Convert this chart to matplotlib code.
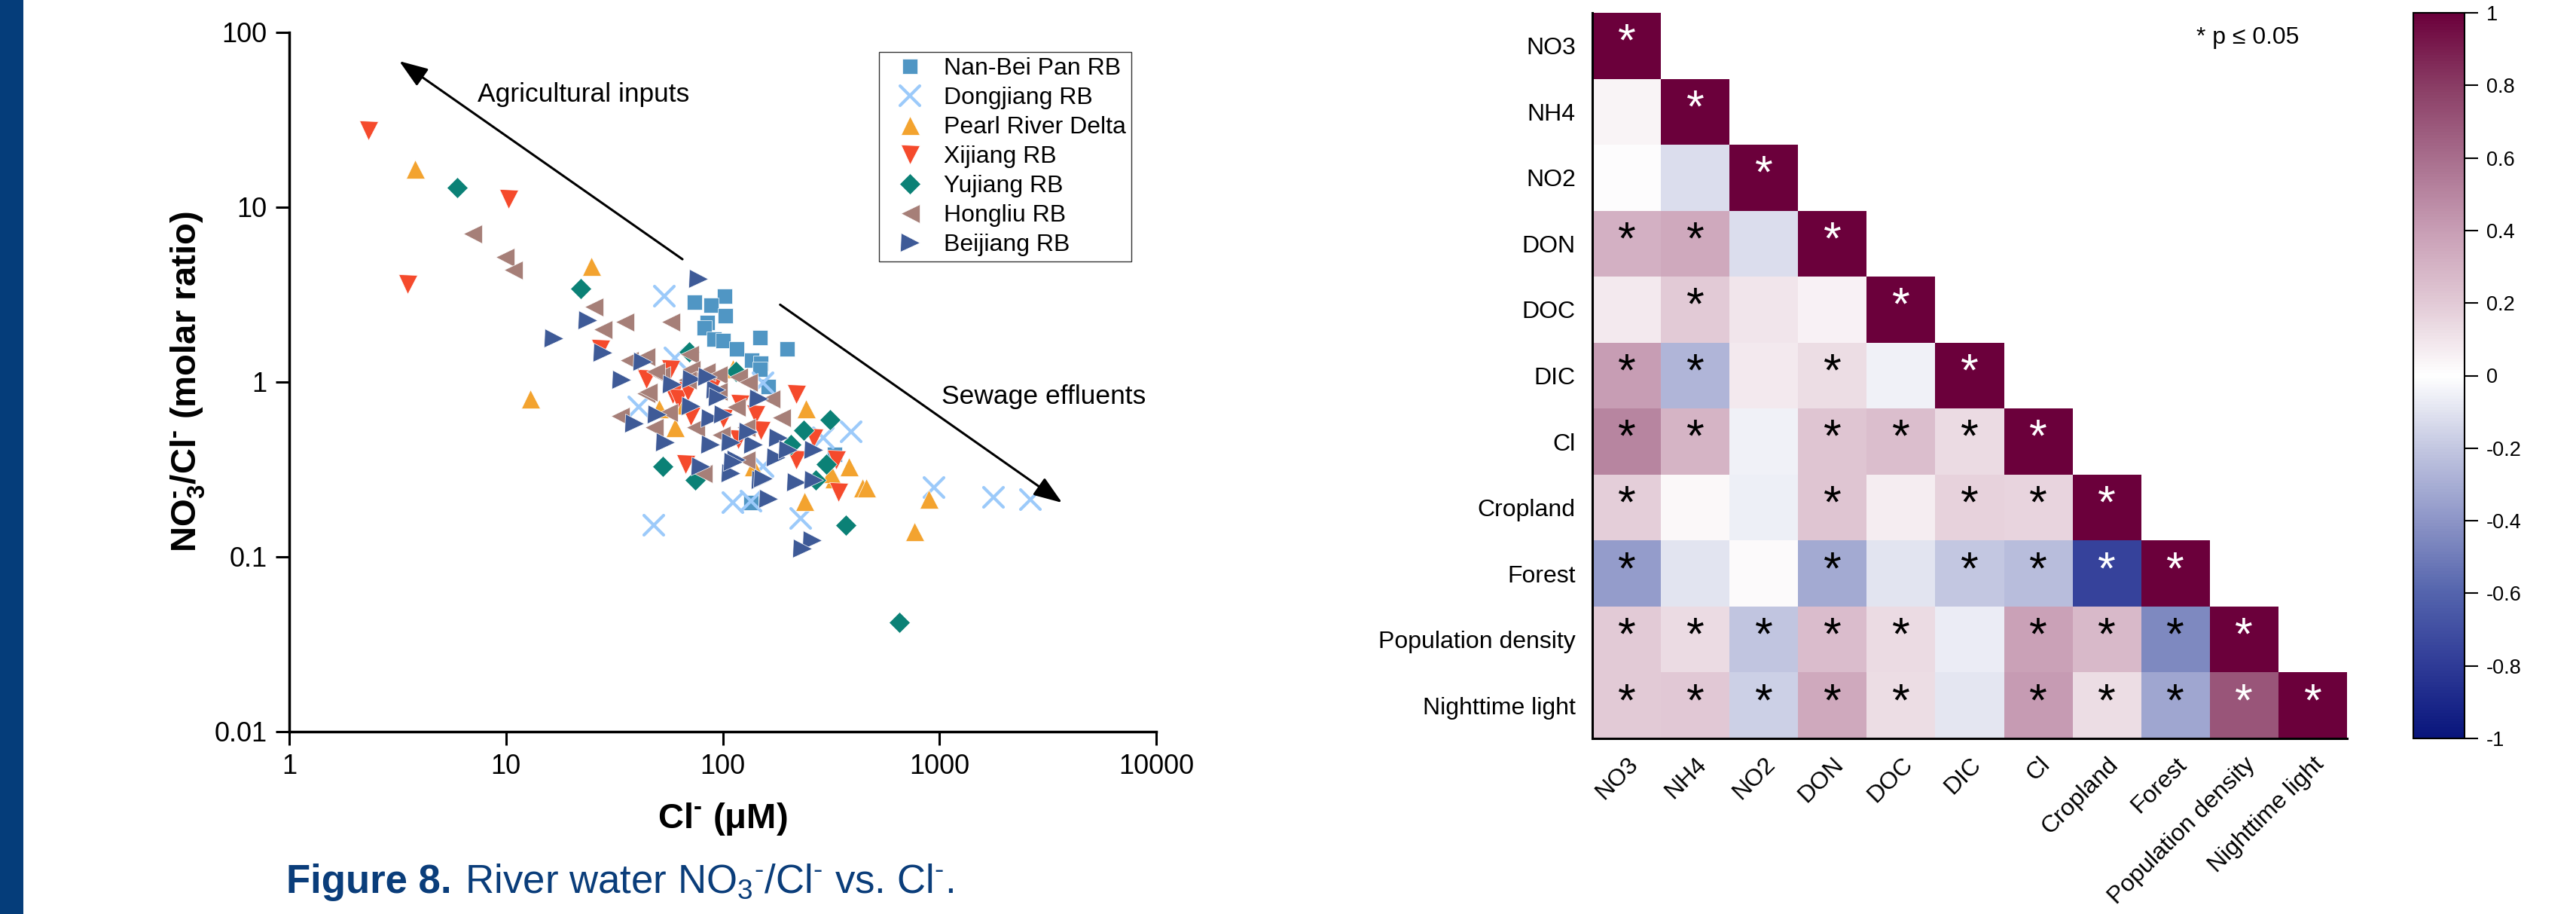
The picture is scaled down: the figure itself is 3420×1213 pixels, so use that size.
import numpy as np
import matplotlib
matplotlib.use("Agg")
import matplotlib.pyplot as plt
from matplotlib.colors import LinearSegmentedColormap
from matplotlib.patches import Rectangle
from matplotlib.markers import MarkerStyle
from matplotlib.transforms import ScaledTranslation

plt.rcParams['font.family'] = ['Liberation Sans', 'DejaVu Sans']
plt.rcParams['mathtext.fontset'] = 'custom'
plt.rcParams['mathtext.rm'] = 'Liberation Sans'
plt.rcParams['mathtext.bf'] = 'Liberation Sans:bold'
plt.rcParams['mathtext.it'] = 'Liberation Sans:italic'
plt.rcParams['mathtext.default'] = 'regular'
plt.rcParams['axes.unicode_minus'] = False

# ---------------- scatter data (Cl- in uM, NO3-/Cl- molar ratio) ----------------
series_names = ["Nan-Bei Pan RB", "Dongjiang RB", "Pearl River Delta", "Xijiang RB",
                "Yujiang RB", "Hongliu RB", "Beijiang RB"]

nanbei_cl = [74, 102, 88, 103, 85, 82, 91, 100, 116, 149, 198, 136, 150, 149, 162, 135, 328]
nanbei_ratio = [2.87, 3.11, 2.75, 2.39, 2.18, 2.04, 1.76, 1.73, 1.55, 1.79, 1.55, 1.33, 1.28,
                1.18, 0.94, 0.205, 0.385]

dongjiang_cl = [54, 60, 41, 153, 392, 111, 135, 48, 229, 944, 1775, 2630, 291, 153]
dongjiang_ratio = [3.10, 1.37, 0.72, 0.33, 0.52, 0.204, 0.208, 0.152, 0.166, 0.25, 0.219, 0.213,
                   0.48, 0.99]

pearl_cl = [3.8, 12.9, 24.7, 51, 60, 242, 382, 441, 326, 138, 238, 459, 315, 892, 766, 111, 64]
pearl_ratio = [16.6, 0.80, 4.61, 0.71, 0.55, 0.71, 0.33, 0.25, 0.28, 0.33, 0.208, 0.25, 0.30,
               0.215, 0.140, 1.20, 0.74]

xijiang_cl = [2.32, 10.3, 3.5, 27.2, 44.4, 58.7, 57.3, 71.2, 142, 150, 118, 218, 262, 218,
              333, 67.3, 342, 62, 90, 120, 100, 69]
xijiang_ratio = [27.5, 11.1, 3.63, 1.55, 1.04, 0.85, 1.18, 0.64, 0.65, 0.53, 0.47, 0.85, 0.48,
                 0.36, 0.36, 0.34, 0.235, 0.80, 0.95, 0.75, 0.62, 0.89]

yujiang_cl = [5.96, 22.1, 52.9, 70, 115, 313, 236, 206, 300, 269, 74.7, 370, 653]
yujiang_ratio = [12.9, 3.44, 0.33, 1.49, 1.15, 0.61, 0.53, 0.44, 0.34, 0.275, 0.275, 0.152, 0.042]

hongliu_cl = [7.0, 9.9, 10.8, 25.4, 27.9, 35.2, 57.3, 36.9, 44, 51.7, 44, 33.6, 48.1, 70, 48.9,
              71.2, 83.5, 94.9, 118, 131, 45.1, 166, 56, 115, 186, 74.7, 98, 128, 128, 80.9,
              68.6, 95]
hongliu_ratio = [7.1, 5.2, 4.39, 2.70, 2.00, 2.21, 2.21, 1.33, 1.40, 1.09, 0.86, 0.64, 0.55, 1.44,
                 1.15, 1.18, 1.15, 1.10, 1.07, 1.00, 0.88, 0.80, 0.67, 0.72, 0.63, 0.55, 0.50,
                 0.55, 0.36, 0.30, 1.03, 0.89]

beijiang_cl = [16.6, 23.8, 27.9, 77.1, 42.7, 34.1, 58.2, 49.6, 39.1, 54.2, 71.8, 92.7, 146, 71.2,
               87.6, 100, 87.6, 138, 180, 262, 176, 115, 78.9, 109, 150, 218, 111, 153, 162, 258,
               233, 262, 95, 200, 109, 131, 85]
beijiang_ratio = [1.78, 2.26, 1.47, 3.90, 1.31, 1.03, 0.97, 0.65, 0.58, 0.45, 1.04, 0.91, 0.80,
                  0.73, 0.62, 0.65, 0.44, 0.44, 0.48, 0.41, 0.37, 0.36, 0.33, 0.30, 0.275, 0.267,
                  0.35, 0.28, 0.215, 0.124, 0.111, 0.275, 0.82, 0.41, 0.45, 0.52, 1.07]

x_ticks = [1, 10, 100, 1000, 10000]
x_ticklabels = ["1", "10", "100", "1000", "10000"]
y_ticks = [0.01, 0.1, 1, 10, 100]
y_ticklabels = ["0.01", "0.1", "1", "10", "100"]

# ---------------- correlation data ----------------
variables = ["NO3", "NH4", "NO2", "DON", "DOC", "DIC", "Cl", "Cropland", "Forest",
             "Population density", "Nighttime light"]
corr_rows = [
    [1.0],
    [0.04, 1.0],
    [0.01, -0.12, 1.0],
    [0.32, 0.35, -0.12, 1.0],
    [0.08, 0.20, 0.10, 0.05, 1.0],
    [0.40, -0.27, 0.08, 0.13, -0.05, 1.0],
    [0.50, 0.30, -0.05, 0.22, 0.25, 0.14, 1.0],
    [0.18, 0.03, -0.06, 0.22, 0.07, 0.17, 0.16, 1.0],
    [-0.37, -0.10, 0.02, -0.32, -0.10, -0.20, -0.24, -0.76, 1.0],
    [0.20, 0.14, -0.21, 0.26, 0.14, -0.07, 0.39, 0.28, -0.45, 1.0],
    [0.20, 0.21, -0.17, 0.35, 0.13, -0.09, 0.41, 0.13, -0.33, 0.70, 1.0],
]
sig_rows = [
    [1],
    [0, 1],
    [0, 0, 1],
    [1, 1, 0, 1],
    [0, 1, 0, 0, 1],
    [1, 1, 0, 1, 0, 1],
    [1, 1, 0, 1, 1, 1, 1],
    [1, 0, 0, 1, 0, 1, 1, 1],
    [1, 0, 0, 1, 0, 1, 1, 1, 1],
    [1, 1, 1, 1, 1, 0, 1, 1, 1, 1],
    [1, 1, 1, 1, 1, 0, 1, 1, 1, 1, 1],
]
cbar_ticks = [-1, -0.8, -0.6, -0.4, -0.2, 0, 0.2, 0.4, 0.6, 0.8, 1]
cbar_ticklabels = ["-1", "-0.8", "-0.6", "-0.4", "-0.2", "0", "0.2", "0.4", "0.6", "0.8", "1"]

# ---------------- figure ----------------
W, H = 3420, 1213
fig = plt.figure(figsize=(W / 100, H / 100), dpi=100)
fig.patch.set_facecolor("white")

def fx(px):
    return px / W

def fy(py):
    return 1 - py / H

HY = "\u2010"  # short hyphen used as the ion charge sign

# left stripe
fig.patches.append(Rectangle((0, 0), fx(31), 1, transform=fig.transFigure,
                             facecolor="#053d7a", edgecolor="none"))

# ---- scatter ----
ax = fig.add_axes([fx(384), fy(971), fx(1535) - fx(384), fy(43) - fy(971)])
ax.set_xscale("log")
ax.set_yscale("log")

styles = [
    (nanbei_cl, nanbei_ratio, "s", "#5096c4", 15),
    (dongjiang_cl, dongjiang_ratio, "x", "#9ccafa", 19),
    (pearl_cl, pearl_ratio, "^", "#f3a32f", 18),
    (xijiang_cl, xijiang_ratio, "v", "#f54a2c", 18),
    (yujiang_cl, yujiang_ratio, "D", "#0b8176", 14),
    (hongliu_cl, hongliu_ratio, "<", "#a67f78", 18),
    (beijiang_cl, beijiang_ratio, ">", "#3e5a97", 18),
]
for (xs, ys, m, c, ms), name in zip(styles, series_names):
    if m == "x":
        ax.plot(xs, ys, ls="none", marker=MarkerStyle("x", capstyle="round"), ms=ms,
                mew=3.0, color=c, label=name)
    else:
        ax.plot(xs, ys, ls="none", marker=m, ms=ms, mfc=c, mec="white", mew=0.5,
                color=c, label=name)

ax.set_xlim(1, 10000)
ax.set_ylim(0.01, 100)
ax.set_xticks(x_ticks)
ax.set_xticklabels(x_ticklabels)
ax.set_yticks(y_ticks)
ax.set_yticklabels(y_ticklabels)
ax.minorticks_off()
ax.tick_params(axis="both", which="major", length=13, width=2.2, labelsize=26, pad=8,
               direction="out")
for s in ["top", "right"]:
    ax.spines[s].set_visible(False)
for s in ["left", "bottom"]:
    ax.spines[s].set_linewidth(2.5)

ax.text(-0.117, 0.5, r"$\mathbf{NO_3^{" + HY + r"}/Cl^{" + HY + r"}\ (molar\ ratio)}$",
        transform=ax.transAxes, rotation=90, ha="center", va="center", fontsize=34)
ax.text(0.5, -0.125, r"$\mathbf{Cl^{" + HY + r"}\ (\mu M)}$", transform=ax.transAxes,
        ha="center", va="center", fontsize=34)

# arrows
ax.annotate("", xy=(3.22, 68.5), xytext=(65.2, 5.04),
            arrowprops=dict(arrowstyle="-|>,head_length=0.55,head_width=0.2",
                            mutation_scale=42, lw=2.2, color="black", shrinkA=0, shrinkB=0))
ax.annotate("", xy=(3680, 0.204), xytext=(184, 2.77),
            arrowprops=dict(arrowstyle="-|>,head_length=0.55,head_width=0.2",
                            mutation_scale=42, lw=2.2, color="black", shrinkA=0, shrinkB=0))
ax.text(7.39, 44.3, "Agricultural inputs", fontsize=25.5, ha="left", va="center")
ax.text(1023, 0.82, "Sewage effluents", fontsize=25.5, ha="left", va="center")

leg = ax.legend(loc="upper left", bbox_to_anchor=(fx(1167), fy(69)),
                bbox_transform=fig.transFigure, fontsize=23, frameon=True,
                fancybox=False, edgecolor="black", borderaxespad=0, borderpad=0.22,
                handlelength=2.1, handletextpad=0.36, labelspacing=0.28, numpoints=1)
leg.get_frame().set_linewidth(1.0)

# ---- heatmap ----
n = len(variables)
corr = np.full((n, n), np.nan)
sig = np.zeros((n, n), dtype=int)
for i, row in enumerate(corr_rows):
    for j, v in enumerate(row):
        corr[i, j] = v
        sig[i, j] = sig_rows[i][j]
corr_m = np.ma.masked_invalid(corr)

cmap = LinearSegmentedColormap.from_list(
    "bwm",
    [(0.0, "#08157c"), (0.1, "#2f3b97"), (0.2, "#5464ad"), (0.3, "#8d95c7"),
     (0.4, "#c3c7e1"), (0.5, "#ffffff"), (0.6, "#e2cad6"), (0.7, "#c89eb5"),
     (0.8, "#a86e8d"), (0.9, "#8a3d65"), (1.0, "#6b003b")])

ax2 = fig.add_axes([fx(2114), fy(980), fx(3116) - fx(2114), fy(17) - fy(980)])
mesh = ax2.pcolormesh(np.arange(n + 1), np.arange(n + 1), corr_m, cmap=cmap, vmin=-1, vmax=1)
ax2.set_xlim(0, n)
ax2.set_ylim(n, 0)
for i in range(n):
    for j in range(i + 1):
        if sig[i, j]:
            col = "white" if abs(corr[i, j]) > 0.6 else "black"
            ax2.text(j + 0.5, i + 0.47, "*", ha="center", va="center", fontsize=44, color=col)

ax2.set_xticks(np.arange(n) + 0.5)
ax2.set_xticklabels(variables, rotation=45, ha="right", rotation_mode="anchor", fontsize=23)
shift = ScaledTranslation(0.15, 0, fig.dpi_scale_trans)
for lab in ax2.get_xticklabels():
    lab.set_transform(lab.get_transform() + shift)
ax2.set_yticks(np.arange(n) + 0.5)
ax2.set_yticklabels(variables, fontsize=23)
ax2.tick_params(axis="x", length=0, pad=14)
ax2.tick_params(axis="y", length=0, pad=16)
for s in ["top", "right"]:
    ax2.spines[s].set_visible(False)
for s in ["left", "bottom"]:
    ax2.spines[s].set_linewidth(2.2)
ax2.text(0.80, 0.966, "* p \u2264 0.05", transform=ax2.transAxes, fontsize=23,
         ha="left", va="center")

cax = fig.add_axes([fx(3204), fy(980), fx(3272) - fx(3204), fy(17) - fy(980)])
cb = fig.colorbar(mesh, cax=cax, ticks=cbar_ticks)
cb.ax.set_yticklabels(cbar_ticklabels)
cb.ax.tick_params(length=13, width=1.5, labelsize=19.5, pad=8)
cb.outline.set_linewidth(1.5)

# caption: bold part, then regular part placed right after it
cap_col = "#0a3d7a"
t1 = fig.text(fx(380), fy(1185), "Figure 8.", fontsize=38, fontweight="bold",
              color=cap_col, ha="left", va="baseline")
renderer = fig.canvas.get_renderer()
bb = t1.get_window_extent(renderer)
rest = (" River water NO$_3$$^{" + HY + "}$/Cl$^{" + HY + "}$ vs. Cl$^{" + HY + "}$.")
fig.text(fx(bb.x1 + 3), fy(1185), rest, fontsize=38, color=cap_col, ha="left",
         va="baseline")

fig.savefig("out.png", dpi=100, facecolor="white")
